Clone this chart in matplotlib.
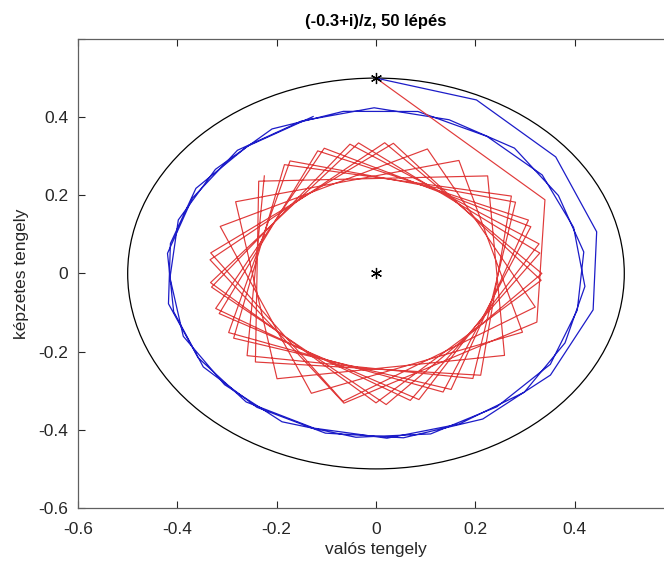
import matplotlib
matplotlib.use("Agg")
import matplotlib.pyplot as plt
from matplotlib.patches import Ellipse
import numpy as np

plt.rcParams['font.family'] = ['Liberation Sans', 'DejaVu Sans']

# polar readings of the iteration points (radius, angle in degrees)
blue_r = [0.500, 0.488, 0.469, 0.457, 0.447, 0.437, 0.430, 0.424, 0.421, 0.418,
          0.422, 0.419, 0.423, 0.417, 0.421, 0.418, 0.424, 0.420, 0.425, 0.418,
          0.422, 0.416, 0.421, 0.419, 0.425, 0.421, 0.424, 0.417, 0.420, 0.415,
          0.421, 0.419, 0.425, 0.420, 0.423, 0.416, 0.419, 0.415, 0.422, 0.420,
          0.426, 0.420, 0.422, 0.415, 0.420, 0.418, 0.425, 0.421, 0.423, 0.416,
          0.421]
blue_ang = [90, 65.5, 39.5, 13.5, -12, -36.5, -60, -82.5, -104, -125,
            -145.5, -166.5, -187, -207.5, -228.5, -249, -269.5, -290.5, -311, -331.5,
            -352.5, -373, -393.5, -414.5, -435, -455.5, -476.5, -497, -517.5, -538.5,
            -559, -579.5, -600.5, -621, -641.5, -662.5, -683, -703.5, -724.5, -745,
            -765.5, -786.5, -807, -827.5, -848.5, -869, -889.5, -910.5, -931, -951.5,
            -972.5]

red_r = [0.500, 0.389, 0.347, 0.338, 0.336, 0.335, 0.334, 0.336, 0.333, 0.335,
         0.337, 0.334, 0.332, 0.335, 0.336, 0.333, 0.331, 0.334, 0.337, 0.335,
         0.332, 0.334, 0.336, 0.333, 0.335, 0.337, 0.334, 0.331, 0.333, 0.336,
         0.335, 0.332, 0.334, 0.337, 0.335, 0.333, 0.331, 0.334, 0.336, 0.334,
         0.332, 0.335, 0.337, 0.334, 0.332, 0.333, 0.336, 0.335, 0.332, 0.334,
         0.336]
red_ang = [90, 29, -21, -101, -186, -273, -360, -446.5, -534, -621,
           -707, -795, -882, -969.5, -1056, -1143, -1230, -1316.5, -1404, -1491,
           -1577, -1665, -1752, -1839, -1926.5, -2013, -2100, -2187, -2273, -2361,
           -2448, -2535, -2621.5, -2709, -2796, -2883, -2970, -3056, -3144, -3231,
           -3318, -3404.5, -3492, -3579, -3666, -3753, -3839, -3927, -4014, -4101,
           -4188]

stars_x = [0, 0]
stars_y = [0.5, 0]

ticks = [-0.6, -0.4, -0.2, 0, 0.2, 0.4, 0.6]
tick_labels = ['-0.6', '-0.4', '-0.2', '0', '0.2', '0.4', '']


def to_xy(r, ang):
    r = np.array(r)
    a = np.deg2rad(ang)
    return r * np.cos(a), r * np.sin(a)


bx, by = to_xy(blue_r, blue_ang)
rx, ry = to_xy(red_r, red_ang)

fig = plt.figure(figsize=(6.64, 5.66), dpi=100)
ax = fig.add_axes([0.1175, 0.1025, 0.8975, 0.8286])

ax.add_patch(Ellipse((0, 0), 1.0, 1.0, fill=False, edgecolor='k', lw=0.9))
ax.plot(bx, by, color='#1c1cc8', lw=0.9)
ax.plot(rx, ry, color='#e03a3a', lw=0.85)
ax.plot(stars_x, stars_y, linestyle='none', marker=(6, 2, 0), color='k',
        ms=8, mew=0.9)

ax.set_xlim(-0.6, 0.6)
ax.set_ylim(-0.6, 0.6)
ax.set_xticks(ticks)
ax.set_xticklabels(tick_labels)
ax.set_yticks(ticks)
ax.set_yticklabels(tick_labels)
ax.tick_params(direction='in', top=True, right=True, length=5,
               labelsize=12.5, colors='#262626', width=0.8)
ax.tick_params(axis='x', pad=10)
ax.tick_params(axis='y', pad=7)
for s in ax.spines.values():
    s.set_color('#606060')
    s.set_linewidth(0.9)

ax.set_title('(-0.3+i)/z, 50 lépés', fontsize=12, fontweight='bold', pad=9)
ax.set_xlabel('valós tengely', fontsize=12.5, color='#262626', labelpad=4)
ax.set_ylabel('képzetes tengely', fontsize=12.5, color='#262626', labelpad=7)

fig.savefig('out.png', dpi=100)
